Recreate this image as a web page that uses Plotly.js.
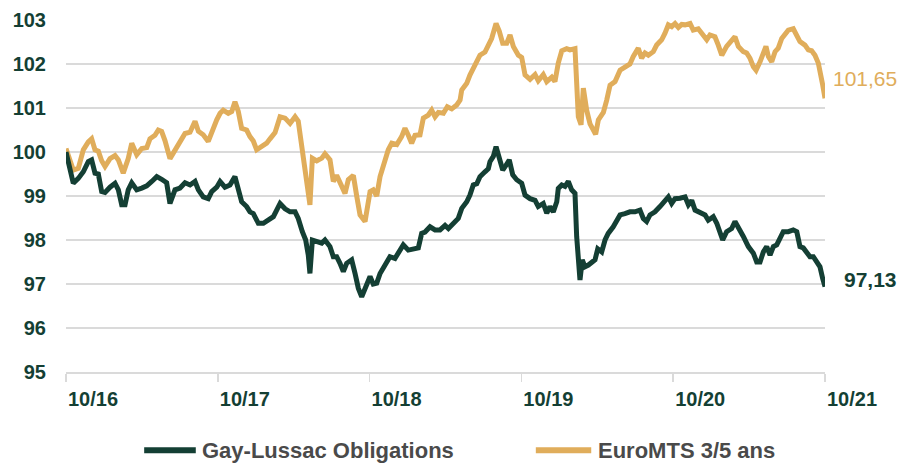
<!DOCTYPE html>
<html><head><meta charset="utf-8">
<script src="https://cdn.plot.ly/plotly-3.0.1.min.js"></script>
<style>html,body{margin:0;padding:0;background:#fff}#chart{width:901px;height:463px}</style>
</head><body><div id="chart"></div>
<script>
// Decimal years (10/16 = 2016.75)
const goldX = [2016.750,2016.776,2016.798,2016.831,2016.864,2016.897,2016.919,2016.941,2016.963,2016.985,2017.007,2017.040,2017.073,2017.095,2017.127,2017.160,2017.183,2017.216,2017.249,2017.282,2017.303,2017.336,2017.358,2017.380,2017.402,2017.435,2017.468,2017.501,2017.534,2017.567,2017.600,2017.622,2017.654,2017.687,2017.710,2017.743,2017.765,2017.786,2017.819,2017.842,2017.863,2017.885,2017.907,2017.940,2017.962,2017.984,2018.006,2018.039,2018.072,2018.094,2018.127,2018.160,2018.193,2018.226,2018.259,2018.280,2018.303,2018.324,2018.346,2018.357,2018.373,2018.402,2018.435,2018.456,2018.489,2018.511,2018.533,2018.555,2018.588,2018.610,2018.643,2018.665,2018.687,2018.720,2018.753,2018.774,2018.797,2018.819,2018.851,2018.873,2018.896,2018.929,2018.961,2018.983,2019.005,2019.027,2019.049,2019.082,2019.104,2019.137,2019.159,2019.181,2019.203,2019.236,2019.262,2019.291,2019.324,2019.346,2019.357,2019.390,2019.411,2019.433,2019.456,2019.477,2019.510,2019.532,2019.554,2019.583,2019.604,2019.627,2019.653,2019.675,2019.697,2019.730,2019.752,2019.774,2019.807,2019.840,2019.861,2019.894,2019.917,2019.950,2019.971,2019.993,2020.016,2020.048,2020.070,2020.103,2020.114,2020.125,2020.143,2020.158,2020.180,2020.202,2020.224,2020.239,2020.257,2020.290,2020.312,2020.334,2020.367,2020.400,2020.432,2020.465,2020.487,2020.520,2020.542,2020.564,2020.586,2020.619,2020.641,2020.674,2020.696,2020.718,2020.740,2020.762,2020.784,2020.806,2020.828,2020.861,2020.882,2020.915,2020.938,2020.971,2020.992,2021.025,2021.047,2021.070,2021.102,2021.135,2021.157,2021.179,2021.212,2021.234,2021.256,2021.278,2021.296,2021.322,2021.344,2021.361,2021.377,2021.399,2021.421,2021.442,2021.465,2021.487,2021.508,2021.541,2021.564,2021.585,2021.618,2021.640,2021.662,2021.684,2021.706,2021.717,2021.735,2021.750];
const euroMTS = [100.08,99.78,99.59,99.63,100.05,100.23,100.3,100.05,100.02,99.8,99.67,99.85,99.92,99.82,99.52,99.85,100.2,99.94,100.08,100.1,100.3,100.38,100.5,100.47,100.26,99.85,100.03,100.2,100.42,100.45,100.7,100.47,100.39,100.24,100.47,100.73,100.88,100.95,100.88,100.92,101.14,100.92,100.54,100.5,100.35,100.25,100.05,100.13,100.2,100.3,100.44,100.8,100.77,100.65,100.8,100.7,100.16,99.74,99.21,98.8,99.86,99.8,99.86,99.96,99.82,99.33,99.47,99.29,99.06,99.37,99.47,99.0,98.57,98.42,99.1,99.14,99.0,99.44,99.78,100.05,100.2,100.17,100.35,100.54,100.38,100.2,100.38,100.39,100.77,100.84,100.95,100.8,100.9,100.88,101.03,100.98,101.07,101.18,101.41,101.56,101.75,101.9,102.0,102.2,102.27,102.43,102.58,102.92,102.75,102.47,102.47,102.66,102.4,102.2,102.15,101.75,101.65,101.76,101.62,101.76,101.6,101.7,101.6,102.02,102.3,102.35,102.32,102.35,101.64,100.8,100.62,101.45,100.95,100.64,100.5,100.4,100.73,100.9,101.18,101.52,101.6,101.86,101.93,102.0,102.17,102.36,102.13,102.25,102.2,102.28,102.43,102.55,102.7,102.89,102.85,102.92,102.83,102.9,102.89,102.92,102.77,102.8,102.7,102.55,102.66,102.62,102.43,102.2,102.4,102.55,102.62,102.4,102.28,102.25,102.13,101.94,101.86,102.05,102.25,102.4,102.17,102.05,102.28,102.36,102.58,102.7,102.77,102.8,102.66,102.51,102.43,102.32,102.3,102.2,102.02,101.86,101.52,101.22];

const greenX = [2016.750,2016.776,2016.798,2016.831,2016.864,2016.897,2016.919,2016.941,2016.963,2016.985,2017.007,2017.040,2017.073,2017.095,2017.117,2017.139,2017.160,2017.183,2017.216,2017.249,2017.282,2017.315,2017.348,2017.380,2017.413,2017.435,2017.468,2017.501,2017.534,2017.567,2017.600,2017.622,2017.654,2017.687,2017.710,2017.743,2017.765,2017.797,2017.830,2017.863,2017.885,2017.907,2017.940,2017.962,2017.984,2018.017,2018.050,2018.083,2018.116,2018.138,2018.160,2018.193,2018.226,2018.259,2018.280,2018.307,2018.329,2018.346,2018.357,2018.373,2018.402,2018.435,2018.456,2018.489,2018.511,2018.533,2018.555,2018.577,2018.599,2018.632,2018.654,2018.676,2018.698,2018.731,2018.753,2018.774,2018.797,2018.819,2018.851,2018.884,2018.917,2018.939,2018.972,2019.005,2019.038,2019.071,2019.093,2019.115,2019.148,2019.181,2019.214,2019.247,2019.269,2019.301,2019.334,2019.357,2019.390,2019.411,2019.433,2019.456,2019.477,2019.510,2019.532,2019.543,2019.565,2019.583,2019.604,2019.627,2019.649,2019.670,2019.693,2019.719,2019.752,2019.774,2019.807,2019.840,2019.861,2019.894,2019.917,2019.938,2019.960,2019.983,2019.993,2020.016,2020.037,2020.059,2020.081,2020.103,2020.114,2020.125,2020.136,2020.151,2020.169,2020.191,2020.213,2020.235,2020.253,2020.279,2020.301,2020.322,2020.355,2020.378,2020.400,2020.432,2020.465,2020.498,2020.531,2020.553,2020.575,2020.597,2020.630,2020.663,2020.696,2020.718,2020.740,2020.762,2020.795,2020.828,2020.850,2020.872,2020.894,2020.927,2020.960,2020.981,2021.014,2021.037,2021.058,2021.076,2021.102,2021.135,2021.157,2021.179,2021.212,2021.245,2021.278,2021.300,2021.322,2021.344,2021.366,2021.388,2021.410,2021.432,2021.454,2021.475,2021.508,2021.541,2021.564,2021.585,2021.607,2021.629,2021.651,2021.673,2021.695,2021.717,2021.735,2021.750];
const gayLussac = [100.0,99.59,99.29,99.4,99.55,99.78,99.82,99.52,99.5,99.1,99.08,99.2,99.29,99.14,98.8,98.8,99.14,99.3,99.14,99.18,99.23,99.33,99.44,99.38,99.3,98.83,99.14,99.18,99.3,99.25,99.33,99.14,98.98,98.94,99.1,99.2,99.33,99.2,99.25,99.44,99.2,98.87,98.76,98.64,98.6,98.38,98.38,98.45,98.53,98.68,98.83,98.71,98.64,98.64,98.49,98.19,98.0,97.66,97.24,98.0,97.96,97.93,98.0,97.85,97.62,97.62,97.47,97.28,97.47,97.55,97.24,96.9,96.71,97.02,97.17,97.0,97.02,97.24,97.43,97.62,97.58,97.7,97.89,97.77,97.8,97.82,98.15,98.18,98.3,98.23,98.23,98.33,98.26,98.38,98.49,98.72,98.87,99.02,99.25,99.28,99.44,99.55,99.62,99.78,99.9,100.12,99.9,99.59,99.7,99.82,99.48,99.37,99.29,99.02,98.94,98.9,98.76,98.83,98.61,98.76,98.64,98.87,99.17,99.25,99.22,99.33,99.14,99.06,98.08,97.39,97.09,97.55,97.39,97.43,97.5,97.55,97.8,97.73,98.0,98.15,98.3,98.45,98.57,98.6,98.64,98.64,98.68,98.49,98.42,98.57,98.64,98.76,98.87,98.98,98.83,98.94,98.95,98.98,98.8,98.9,98.68,98.64,98.57,98.45,98.53,98.38,98.19,98.0,98.19,98.26,98.42,98.26,98.08,97.85,97.7,97.5,97.5,97.73,97.85,97.66,97.85,97.89,98.04,98.19,98.19,98.23,98.19,97.85,97.82,97.7,97.62,97.62,97.5,97.39,97.12,96.94];

const tickVals = [2016.75,2017.75,2018.75,2019.75,2020.75,2021.75];
const tickText = ['10/16','10/17','10/18','10/19','10/20','10/21'];
const seriesNames = ['Gay-Lussac Obligations','EuroMTS 3/5 ans'];
const endLabels = ['97,13','101,65'];

const GREEN = '#143f34', GOLD = '#e0ad5b', GRID = '#dadada';
const FONT = '"Liberation Sans", Arial, sans-serif';

const traces = [
  {x: goldX, y: euroMTS, name: seriesNames[1], type: 'scatter', mode: 'lines',
   line: {color: GOLD, width: 5, shape: 'linear'}, hoverinfo: 'skip'},
  {x: greenX, y: gayLussac, name: seriesNames[0], type: 'scatter', mode: 'lines',
   line: {color: GREEN, width: 5, shape: 'linear'}, hoverinfo: 'skip'}
];

const legY = -0.222;
const layout = {
  width: 901, height: 463,
  margin: {l: 66, r: 76, t: 20, b: 91},
  paper_bgcolor: '#fff', plot_bgcolor: '#fff',
  showlegend: false,
  xaxis: {
    range: [2016.75, 2021.75], tickvals: tickVals, ticktext: tickText,
    showgrid: false, zeroline: false,
    showline: true, linecolor: GRID, linewidth: 1.5,
    ticks: 'outside', ticklen: 8, tickwidth: 1.5, tickcolor: GRID,
    ticklabelshift: 27, ticklabelstandoff: 0,
    tickfont: {family: FONT, size: 20, color: GREEN, weight: 'bold'}
  },
  yaxis: {
    range: [95, 103], dtick: 1, tick0: 95,
    showgrid: true, gridcolor: GRID, gridwidth: 1.5, zeroline: false,
    showline: false, ticks: '', ticklabelstandoff: 19,
    tickfont: {family: FONT, size: 20, color: GREEN, weight: 'bold'}
  },
  shapes: [
    {type: 'line', xref: 'paper', yref: 'paper', x0: 0.103, x1: 0.171, y0: legY, y1: legY,
     line: {color: GREEN, width: 6}},
    {type: 'line', xref: 'paper', yref: 'paper', x0: 0.619, x1: 0.692, y0: legY, y1: legY,
     line: {color: GOLD, width: 6}}
  ],
  annotations: [
    {xref: 'paper', yref: 'paper', x: 0.177, y: legY, xanchor: 'left', yanchor: 'middle',
     text: seriesNames[0], showarrow: false,
     font: {family: FONT, size: 22, color: '#4a4a4a', weight: 'bold'}},
    {xref: 'paper', yref: 'paper', x: 0.698, y: legY, xanchor: 'left', yanchor: 'middle',
     text: seriesNames[1], showarrow: false,
     font: {family: FONT, size: 22, color: '#4a4a4a', weight: 'bold'}},
    {xref: 'paper', yref: 'y', x: 1.097, y: gayLussac[gayLussac.length-1] + 0.17, xanchor: 'right', yanchor: 'middle',
     text: endLabels[0], showarrow: false,
     font: {family: FONT, size: 21, color: GREEN, weight: 'bold'}},
    {xref: 'paper', yref: 'y', x: 1.097, y: euroMTS[euroMTS.length-1] + 0.45, xanchor: 'right', yanchor: 'middle',
     text: endLabels[1], showarrow: false,
     font: {family: FONT, size: 21, color: GOLD, weight: 'normal'}}
  ]
};

Plotly.newPlot('chart', traces, layout, {displayModeBar: false, staticPlot: true});
</script>
</body></html>
